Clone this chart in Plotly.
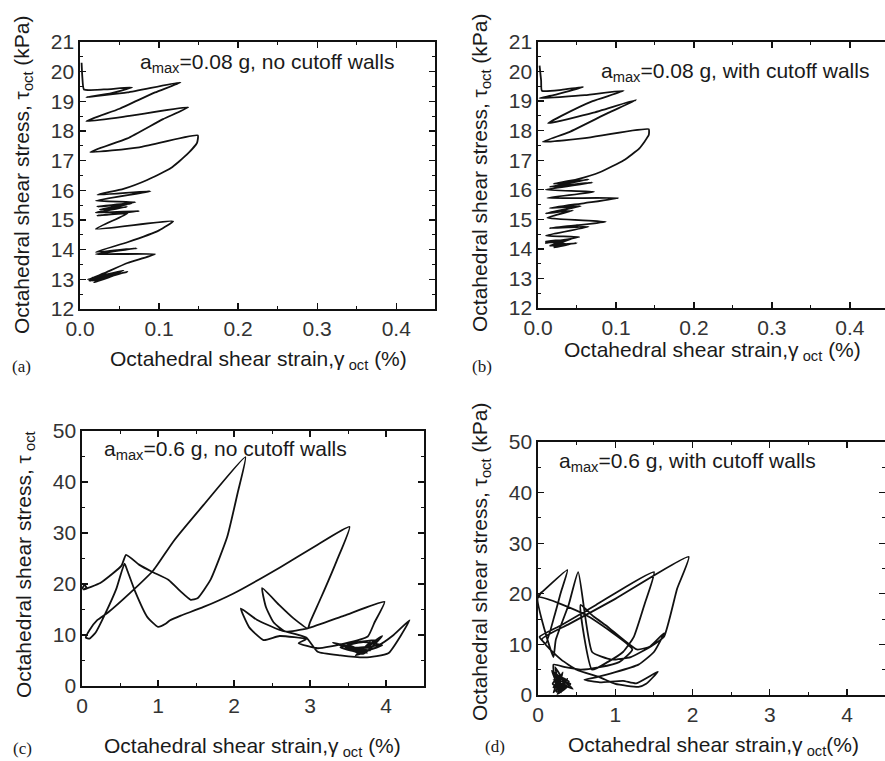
import plotly.graph_objects as go

# ---------------- data (strain %, stress kPa) ----------------
a_strain = [0.002, 0.003, 0.005, 0.03, 0.066, 0.035, 0.008, 0.06, 0.127, 0.095, 0.05, 0.008,
            0.06, 0.137, 0.105, 0.06, 0.013, 0.075, 0.149, 0.148, 0.135, 0.115, 0.085, 0.055,
            0.022, 0.089, 0.02, 0.07, 0.022, 0.065, 0.025, 0.06, 0.02, 0.075, 0.022, 0.06,
            0.02, 0.118, 0.1, 0.06, 0.02, 0.072, 0.02, 0.095, 0.06, 0.03, 0.012, 0.06,
            0.015, 0.05, 0.012, 0.045, 0.018, 0.055, 0.01, 0.04, 0.02, 0.05, 0.015]
a_stress = [20.3, 19.8, 19.4, 19.4, 19.47, 19.25, 19.14, 19.3, 19.64, 19.3, 18.75, 18.33,
            18.5, 18.8, 18.4, 17.75, 17.29, 17.45, 17.85, 17.6, 17.2, 16.75, 16.35, 16.05,
            15.85, 15.97, 15.65, 15.6, 15.45, 15.55, 15.35, 15.45, 15.25, 15.3, 15.15, 15.22,
            14.7, 14.96, 14.65, 14.25, 13.92, 14.05, 13.85, 13.85, 13.55, 13.2, 13.0, 13.25,
            12.95, 13.2, 12.95, 13.15, 12.9, 13.3, 13.0, 13.1, 12.92, 13.22, 13.05]

b_strain = [0.002, 0.004, 0.005, 0.03, 0.058, 0.02, 0.002, 0.06, 0.11, 0.07, 0.03, 0.013,
            0.07, 0.126, 0.09, 0.04, 0.006, 0.06, 0.142, 0.142, 0.13, 0.11, 0.08, 0.05,
            0.02, 0.065, 0.015, 0.07, 0.01, 0.072, 0.012, 0.103, 0.06, 0.015, 0.055, 0.01,
            0.045, 0.012, 0.087, 0.05, 0.015, 0.065, 0.01, 0.053, 0.01, 0.045, 0.015, 0.05,
            0.02, 0.04, 0.01, 0.035, 0.015]
b_stress = [20.2, 19.7, 19.35, 19.38, 19.48, 19.2, 19.1, 19.2, 19.35, 19.0, 18.5, 18.25,
            18.6, 19.04, 18.6, 17.95, 17.62, 17.75, 18.05, 17.85, 17.4, 17.0, 16.6, 16.35,
            16.2, 16.35, 16.1, 16.25, 16.0, 15.93, 15.72, 15.72, 15.55, 15.38, 15.45, 15.2,
            15.3, 15.05, 14.92, 14.8, 14.7, 14.75, 14.45, 14.4, 14.2, 14.35, 14.1, 14.2,
            14.05, 14.15, 14.25, 14.3, 14.1]

c_strain = [0.0, 0.03, 0.06, 0.02, 0.24, 0.4, 0.52, 0.58, 0.75, 0.92, 1.14, 1.3, 1.43, 1.52,
            1.69, 1.91, 2.05, 2.15, 1.6, 1.2, 0.94, 0.63, 0.35, 0.2, 0.1, 0.05, 0.1, 0.18,
            0.3, 0.45, 0.56, 0.6, 0.7, 0.86, 1.0, 1.1, 1.16, 1.3, 1.6, 2.0, 2.61, 3.1, 3.52,
            3.35, 3.15, 3.0, 2.97, 2.78, 2.6, 2.37, 2.42, 2.52, 2.67, 2.97, 3.45, 3.98, 3.85,
            3.76, 3.45, 3.1, 2.85, 2.95, 2.6, 2.39, 2.2, 2.09, 2.3, 2.6, 2.95, 3.1, 3.4, 3.72,
            4.03, 4.31, 4.1, 3.9, 3.6, 3.3, 3.65, 3.95, 3.7, 3.45, 3.8, 3.6, 3.85, 3.55, 3.75,
            3.5, 3.9, 3.6, 3.4, 3.7, 3.95, 3.65, 3.5, 3.8]
c_stress = [19.0, 19.8, 19.3, 18.9, 20.2, 22.0, 23.6, 25.7, 23.8, 22.4, 20.8, 18.5, 16.9, 17.2,
            20.8, 29.2, 38.0, 44.9, 35.5, 28.3, 22.7, 18.2, 14.5, 12.9, 11.0, 9.5, 9.3, 10.5,
            14.0, 19.0, 24.0, 22.5, 18.5, 13.5, 11.6, 12.2, 12.9, 13.8, 15.5, 18.2, 23.3, 27.7, 31.2,
            24.5, 17.5, 12.5, 11.3, 13.3, 15.8, 19.2, 15.5, 12.5, 10.7, 11.3, 13.8, 16.5, 12.5,
            9.7, 8.3, 7.4, 8.4, 9.2, 9.8, 9.0, 11.5, 15.2, 13.0, 11.0, 9.5, 6.7, 6.0, 5.6,
            6.4, 12.9, 10.0, 8.0, 7.5, 8.5, 7.0, 9.8, 6.3, 7.8, 8.8, 6.0, 7.5, 7.2, 6.5,
            8.2, 9.0, 6.8, 7.6, 8.6, 8.0, 6.6, 7.4, 7.0]

d_strain = [0.0, 0.05, 0.0, 0.38, 0.3, 0.21, 0.1, 0.02, 0.3, 0.75, 1.5, 1.38, 1.24, 1.1, 0.9,
            0.7, 0.55, 0.72, 0.9, 1.28, 1.45, 1.63, 1.5, 1.3, 1.0, 0.75, 0.6, 0.8, 1.1, 1.27,
            1.55, 1.4, 1.3, 1.0, 0.8, 0.5, 0.3, 0.05, 0.4, 1.0, 1.95, 1.8, 1.63, 1.46, 1.2,
            0.95, 0.7, 0.52, 0.4, 0.23, 0.2, 0.0, 0.62, 1.22, 1.05, 0.8, 0.55, 0.35, 0.2, 0.25,
            0.32, 0.2, 0.38, 0.25, 0.42, 0.2, 0.45, 0.18, 0.3, 0.22, 0.35, 0.2, 0.3, 0.26,
            0.4, 0.22, 0.33, 0.19, 0.28, 0.24, 0.36]
d_stress = [19.2, 20.4, 19.6, 24.7, 20.5, 15.5, 10.2, 11.5, 13.8, 17.8, 24.3, 18.0, 11.5, 8.5, 6.5,
            5.0, 17.8, 15.5, 13.5, 9.0, 9.6, 12.2, 8.5, 6.0, 4.5, 3.5, 3.0, 2.5, 2.8, 2.3,
            4.6, 2.2, 1.6, 2.2, 3.5, 5.0, 7.0, 11.0, 14.0, 19.0, 27.3, 21.0, 11.5, 9.6, 7.5,
            7.0, 8.5, 24.3, 18.0, 10.9, 7.5, 19.3, 15.8, 9.0, 6.5, 5.5, 5.0, 5.5, 6.0, 1.0,
            4.5, 0.5, 3.2, 0.2, 2.2, 3.0, 1.2, 4.8, 0.5, 5.5, 2.0, 1.5, 3.5, 0.3,
            2.6, 4.0, 1.0, 2.2, 3.8, 0.6, 1.8]

panel_notes = ["a<sub>max</sub>=0.08 g, no cutoff walls",
               "a<sub>max</sub>=0.08 g, with cutoff walls",
               "a<sub>max</sub>=0.6 g, no cutoff walls",
               "a<sub>max</sub>=0.6 g, with cutoff walls"]
panel_tags = ["(a)", "(b)", "(c)", "(d)"]
x_titles = ["Octahedral shear strain,γ<sub> oct</sub> (%)",
            "Octahedral shear strain,γ<sub> oct</sub> (%)",
            "Octahedral shear strain,γ<sub> oct</sub> (%)",
            "Octahedral shear strain,γ<sub> oct</sub>(%)"]
y_titles = ["Octahedral shear stress, τ<sub>oct</sub> (kPa)",
            "Octahedral shear stress, τ<sub>oct</sub> (kPa)",
            "Octahedral shear stress, τ<sub> oct</sub>",
            "Octahedral shear stress, τ<sub>oct</sub> (kPa)"]

W, H = 885, 761
def px(x): return x / W
def py(y): return 1 - y / H

FONT = "Liberation Sans, Arial, sans-serif"
TXT = "#1a1a1a"

fig = go.Figure()
series = [(a_strain, a_stress), (b_strain, b_stress), (c_strain, c_stress), (d_strain, d_stress)]
for i, (xs, ys) in enumerate(series):
    sfx = "" if i == 0 else str(i + 1)
    fig.add_trace(go.Scatter(x=xs, y=ys, mode="lines", xaxis="x" + sfx, yaxis="y" + sfx,
                             line=dict(color="#111", width=1.8, shape="spline", smoothing=0.45),
                             showlegend=False, hoverinfo="skip"))

# domains in pixels: (left, right, top, bottom)
boxes = [(80, 435, 42, 309), (538, 885, 42, 308), (82, 424, 431, 686), (538, 885, 442, 695)]
xranges = [[0, 0.449], [0, 0.445], [0, 4.5], [0, 4.49]]
yranges = [[12, 21], [12, 21], [0, 50], [0, 50]]
xdt = [(0.1, 0.05), (0.1, 0.05), (1, 0.5), (1, 0.5)]
ydt = [(1, 0.5), (1, 0.5), (10, 5), (10, 5)]
xfmt = [".1f", ".1f", "d", "d"]
ymirror = ["ticks", False, "ticks", "ticks"]

layout = dict(width=W, height=H, margin=dict(l=0, r=0, t=0, b=0, autoexpand=False),
              paper_bgcolor="white", plot_bgcolor="white",
              font=dict(family=FONT, color=TXT, size=20))
for i in range(4):
    sfx = "" if i == 0 else str(i + 1)
    l, r, t, b = boxes[i]
    common = dict(showline=True, linecolor="#111", linewidth=1.6, ticks="inside", ticklen=6,
                  tickwidth=1.3, tickcolor="#111", showgrid=False, zeroline=False,
                  automargin=False,
                  tickfont=dict(family=FONT, size=21, color="#333"))
    layout["xaxis" + sfx] = dict(common, domain=[px(l), min(px(r), 1.0)], range=xranges[i],
                                 anchor="y" + sfx, dtick=xdt[i][0], tick0=0, tickformat=xfmt[i],
                                 mirror="ticks",
                                 minor=dict(ticks="inside", ticklen=3, dtick=xdt[i][1], tick0=0,
                                            tickcolor="#111", tickwidth=1))
    layout["yaxis" + sfx] = dict(common, domain=[py(b), py(t)], range=yranges[i],
                                 anchor="x" + sfx, dtick=ydt[i][0], tick0=0,
                                 mirror=ymirror[i],
                                 minor=dict(ticks="inside", ticklen=3, dtick=ydt[i][1], tick0=0,
                                            tickcolor="#111", tickwidth=1))
fig.update_layout(**layout)

ann = []
note_pos = [(138, 63), (599, 72), (102, 450), (557, 462)]
xt_pos = [(258, 360), (712, 351), (252, 747), (713, 746)]
yt_pos = [(23, 175), (481, 173), (25, 565), (481, 562)]
tag_pos = [(21, 366), (482, 366), (22, 748), (495, 746)]
for i in range(4):
    ann.append(dict(x=px(note_pos[i][0]), y=py(note_pos[i][1]), xref="paper", yref="paper",
                    text=panel_notes[i], showarrow=False, xanchor="left", yanchor="middle",
                    font=dict(size=21, color=TXT, family=FONT)))
    ann.append(dict(x=px(xt_pos[i][0]), y=py(xt_pos[i][1]), xref="paper", yref="paper",
                    text=x_titles[i], showarrow=False, xanchor="center", yanchor="middle",
                    font=dict(size=21, color=TXT, family=FONT)))
    ann.append(dict(x=px(yt_pos[i][0]), y=py(yt_pos[i][1]), xref="paper", yref="paper",
                    text=y_titles[i], showarrow=False, xanchor="center", yanchor="middle",
                    textangle=-90, font=dict(size=21, color=TXT, family=FONT)))
    ann.append(dict(x=px(tag_pos[i][0]), y=py(tag_pos[i][1]), xref="paper", yref="paper",
                    text=panel_tags[i], showarrow=False, xanchor="center", yanchor="middle",
                    font=dict(size=17, color=TXT, family="Liberation Serif, Times New Roman, serif")))
fig.update_layout(annotations=ann)

fig.write_html("out.html", config={"displayModeBar": False, "staticPlot": True},
               post_script="document.body.style.margin='0';document.body.style.overflow='hidden';")
